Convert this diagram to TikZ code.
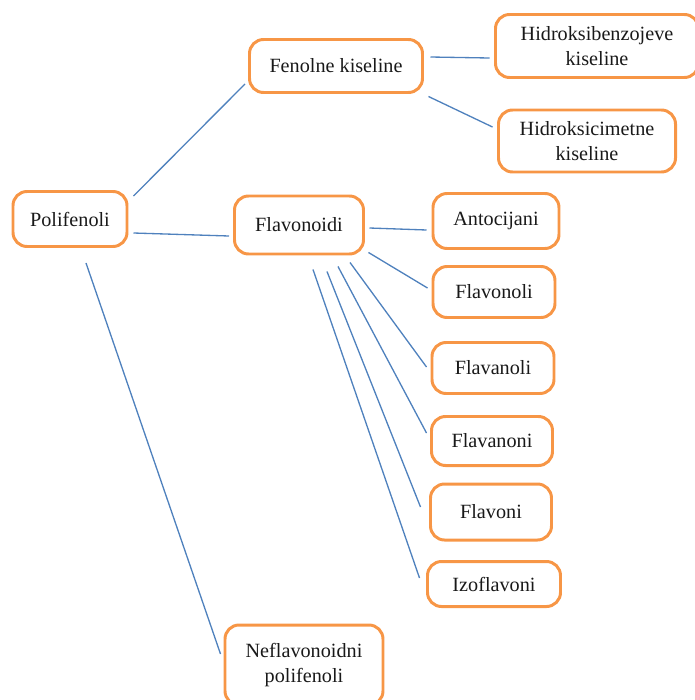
\documentclass[tikz,border=0pt]{standalone}
\usepackage{fontspec}
\setmainfont{Liberation Serif}
\usetikzlibrary{positioning}
\definecolor{boxorange}{HTML}{F79646}
\definecolor{linkblue}{HTML}{4F81BD}

\begin{document}
\begin{tikzpicture}[x=0.02cm,y=-0.02cm,
  box/.style={draw=boxorange,line width=1.7pt,rounded corners=8pt,align=center,
    inner sep=0pt,font=\fontsize{11.5}{13.8}\selectfont,text=black!90},
  link/.style={draw=linkblue,line width=0.75pt}]
\useasboundingbox (0,0) rectangle (694,700);
\node[box,minimum width=114*0.02cm,minimum height=55*0.02cm] at (70,219) (poli) {Polifenoli};
\node[box,minimum width=173*0.02cm,minimum height=53*0.02cm] at (336,66) (fenol) {Fenolne kiseline};
\node[box,minimum width=129*0.02cm,minimum height=58*0.02cm] at (299,225) (flavd) {Flavonoidi};
\node[box,minimum width=203*0.02cm,minimum height=63*0.02cm] at (597,46) (hbenz) {Hidroksibenzojeve\\kiseline};
\node[box,minimum width=177*0.02cm,minimum height=62*0.02cm] at (587,141) (hcim) {Hidroksicimetne\\kiseline};
\node[box,minimum width=126*0.02cm,minimum height=55*0.02cm] at (496,221) (anto) {Antocijani};
\node[box,minimum width=122*0.02cm,minimum height=51*0.02cm] at (494,292) (fvnol) {Flavonoli};
\node[box,minimum width=122*0.02cm,minimum height=51*0.02cm] at (493,368) (fvanol) {Flavanoli};
\node[box,minimum width=121*0.02cm,minimum height=49*0.02cm] at (492,441) (fvanon) {Flavanoni};
\node[box,minimum width=121*0.02cm,minimum height=56*0.02cm] at (491,512) (fvoni) {Flavoni};
\node[box,minimum width=133*0.02cm,minimum height=45*0.02cm] at (494,584) (izo) {Izoflavoni};
\node[box,minimum width=158*0.02cm,minimum height=80*0.02cm] at (304,665) (nefl) {Neflavonoidni\\polifenoli};
% veze od polifenola
\draw[link] ([shift={(5,6)}]poli.north east) to ([shift={(-3,-10)}]fenol.south west);
\draw[link] ([shift={(5,14)}]poli.east) to ([shift={(-4,11)}]flavd.west);
\draw[link] ([shift={(16,15)}]poli.south) to ([shift={(-3,-11)}]nefl.west);
\draw[link] ([shift={(6.5,-9)}]fenol.east) to ([shift={(-4.5,12)}]hbenz.west);
\draw[link] ([shift={(4.5,2.5)}]fenol.south east) to ([shift={(-4.5,-14)}]hcim.west);
% flavonoidi
\draw[link] ([shift={(4.5,3)}]flavd.east) to ([shift={(-5,9)}]anto.west);
\draw[link] ([shift={(3.5,-3)}]flavd.south east) to ([shift={(-4,-4)}]fvnol.west);
\draw[link] ([shift={(51,7)}]flavd.south) to ([shift={(-4,-1)}]fvanol.west);
\draw[link] ([shift={(39,11)}]flavd.south) to ([shift={(-3.5,-8)}]fvanon.west);
\draw[link] ([shift={(28,16)}]flavd.south) to ([shift={(-8.5,-5)}]fvoni.west);
\draw[link] ([shift={(14,14)}]flavd.south) to ([shift={(-6.5,-6)}]izo.west);
\end{tikzpicture}
\end{document}
